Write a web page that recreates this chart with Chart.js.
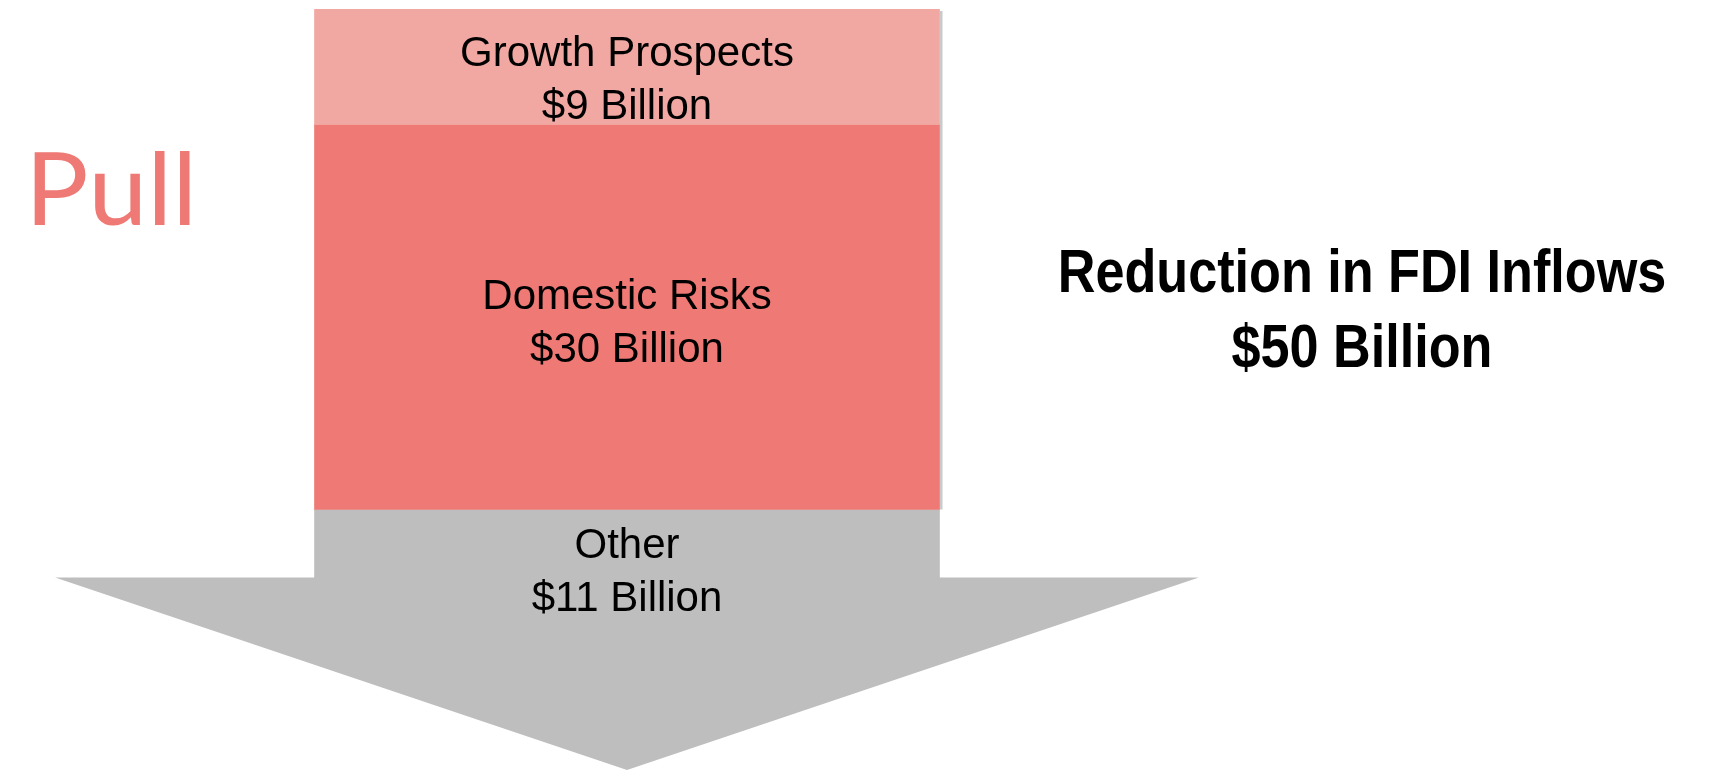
<!DOCTYPE html>
<html>
<head>
<meta charset="utf-8">
<title>Reduction in FDI Inflows</title>
<script src="https://cdn.jsdelivr.net/npm/chart.js@4.4.1/dist/chart.umd.min.js"></script>
<style>
  html, body { margin: 0; padding: 0; background: #ffffff; overflow: hidden; }
  #wrap { width: 1714px; height: 771px; position: relative; }
</style>
</head>
<body>
<div id="wrap"><canvas id="c"></canvas></div>
<script>
// Breakdown of the fall in FDI inflows (US$ billion), top to bottom of the arrow
const categories = ['Growth Prospects', 'Domestic Risks', 'Other'];
const valuesBn = [9, 30, 11];
const segmentColors = ['#F2A8A2', '#EF7974', '#BEBEBE'];

const sideLabel = 'Pull';
const totalCaption = 'Reduction in FDI Inflows';

// Axis and arrowhead geometry, in axis units (billions, counted downward)
const axisMax = 59.3;
const arrowShoulder = 44.3;
const arrowHalfWidthRatio = 1.83;   // arrowhead half-width relative to half the shaft
const labelNudge = [14, 7, -7];     // vertical shift of each segment label, px

const fmtBn = v => '$' + v + ' Billion';
const totalBn = valuesBn.reduce((a, b) => a + b, 0);

// Arrowhead below the stacked shaft, in the colour of the last segment,
// plus a thin drop shadow along the right side of the coloured segments
const arrowHead = {
  id: 'arrowHead',
  beforeDatasetsDraw(chart) {
    const y = chart.scales.y;
    const ctx = chart.ctx;
    const last = chart.getDatasetMeta(valuesBn.length - 1).data[0];
    const cx = last.x;
    const half = last.width / 2 * arrowHalfWidthRatio;
    const ys = y.getPixelForValue(arrowShoulder);
    const yt = y.getPixelForValue(axisMax);

    const first = chart.getDatasetMeta(0).data[0];
    const prev = chart.getDatasetMeta(valuesBn.length - 2).data[0];
    const right = first.x + first.width / 2;
    ctx.save();
    ctx.fillStyle = '#CACACA';
    ctx.fillRect(right, Math.min(first.y, first.base) + 2, 3,
                 Math.max(prev.y, prev.base) - Math.min(first.y, first.base) - 2);

    ctx.fillStyle = segmentColors[segmentColors.length - 1];
    ctx.beginPath();
    ctx.moveTo(cx - half, ys);
    ctx.lineTo(cx + half, ys);
    ctx.lineTo(cx, yt);
    ctx.closePath();
    ctx.fill();
    ctx.restore();
  }
};

// Segment names and values, the side label and the total caption
const annotations = {
  id: 'annotations',
  afterDatasetsDraw(chart) {
    const ctx = chart.ctx;
    ctx.save();
    ctx.textAlign = 'center';
    ctx.textBaseline = 'middle';
    ctx.fillStyle = '#000000';
    ctx.font = '42px "Liberation Sans", Arial, sans-serif';
    categories.forEach((name, i) => {
      const el = chart.getDatasetMeta(i).data[0];
      const cy = (el.y + el.base) / 2 + labelNudge[i];
      ctx.fillText(name, el.x, cy - 26.5);
      ctx.fillText(fmtBn(valuesBn[i]), el.x, cy + 26.5);
    });

    // side label, slightly widened
    ctx.textAlign = 'left';
    ctx.textBaseline = 'alphabetic';
    ctx.fillStyle = segmentColors[1];
    ctx.font = '100px Lato, "Open Sans", sans-serif';
    ctx.save();
    ctx.translate(25, 225);
    ctx.scale(1.06, 1);
    ctx.fillText(sideLabel, 0, 0);
    ctx.restore();

    // total caption, condensed bold
    ctx.fillStyle = '#000000';
    ctx.textAlign = 'center';
    ctx.font = 'bold 61px "Liberation Sans", Arial, sans-serif';
    const cx = 1362;
    [[totalCaption, 292], [fmtBn(totalBn), 367]].forEach(([t, by]) => {
      ctx.save();
      ctx.translate(cx, by);
      ctx.scale(0.855, 1);
      ctx.fillText(t, 0, 0);
      ctx.restore();
    });
    ctx.restore();
  }
};

function build() {
  new Chart(document.getElementById('c'), {
    type: 'bar',
    data: {
      labels: ['FDI'],
      datasets: categories.map((name, i) => ({
        label: name,
        data: [valuesBn[i]],
        backgroundColor: segmentColors[i],
        borderWidth: 0,
        barThickness: 625,
        stack: 'fdi'
      }))
    },
    options: {
      responsive: true,
      maintainAspectRatio: false,
      devicePixelRatio: 1,
      animation: false,
      events: [],
      layout: { padding: { top: 9, bottom: 1, left: 0, right: 460 } },
      plugins: {
        legend: { display: false },
        tooltip: { enabled: false },
        title: { display: false }
      },
      scales: {
        x: { stacked: true, display: false },
        y: { stacked: true, display: false, reverse: true, min: 0, max: axisMax }
      }
    },
    plugins: [arrowHead, annotations]
  });
}

const fontLoads = [
  '42px "Liberation Sans"', 'bold 61px "Liberation Sans"', '100px Lato'
].map(f => document.fonts.load(f).catch(() => null));
Promise.all(fontLoads).then(build, build);
</script>
</body>
</html>
